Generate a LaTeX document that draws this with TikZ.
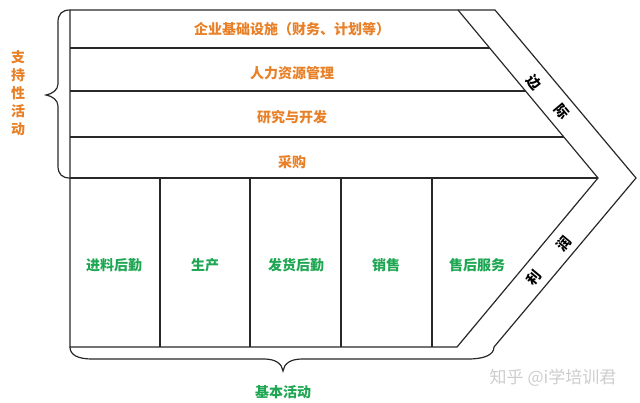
\documentclass[tikz,border=0pt]{standalone}
\usepackage{fontspec}
\setmainfont{Noto Sans CJK SC}
\usetikzlibrary{positioning}
\definecolor{suporange}{RGB}{232,128,40}
\definecolor{basegreen}{RGB}{30,166,82}
\definecolor{frameline}{RGB}{40,40,40}
\definecolor{markgray}{RGB}{205,205,205}

\begin{document}
\begin{tikzpicture}[x=1pt, y=-1pt, line width=1.2pt]

		\tikzstyle{sup}=[text=suporange, font=\fontsize{14}{16}\selectfont\bfseries, inner sep=0pt]
		\tikzstyle{base}=[text=basegreen, font=\fontsize{14}{16}\selectfont\bfseries, inner sep=0pt]
		\tikzstyle{margin}=[text=black, font=\fontsize{14}{16}\selectfont\bfseries, inner sep=0pt]
		\useasboundingbox (0,0) rectangle (640,402);

		% Chevron corners
		\coordinate (tl) at (70,10);
		\coordinate (ti) at (458,10);
		\coordinate (to) at (495,10);
		\coordinate (pi) at (598,178);
		\coordinate (po) at (636,178);
		\coordinate (bi) at (457,347);
		\coordinate (bo) at (494,347);
		\coordinate (bl) at (70,347);

		% Outline
		\draw[frameline] (tl) -- (to) -- (po) -- (bo);
		\draw[frameline] (ti) -- (pi) -- (bi) -- (bl) -- (tl);
		% Support rows
		\draw[frameline] (70,48) -- (489.7,48);
		\draw[frameline] (70,91) -- (525.5,91);
		\draw[frameline] (70,137) -- (563.8,137);
		\draw[frameline] (70,178) -- (pi);
		% Primary columns
		\foreach \x in {160,250,341,432}
			\draw[frameline] (\x,178) -- (\x,347);

		% Braces
		\draw[frameline] (tl) .. controls (62,10) and (58,14) .. (58,22) -- (58,84)
			.. controls (58,90) and (52,94) .. (46,95) .. controls (52,96) and (58,100) .. (58,106)
			-- (58,166) .. controls (58,174) and (62,178) .. (70,178);
		\draw[frameline] (bl) .. controls (70,355) and (78,359) .. (92,359) -- (264,359)
			.. controls (276,359) and (282,364) .. (283,371) .. controls (284,364) and (290,359) .. (302,359)
			-- (468,359) .. controls (484,359) and (494,355) .. (bo);

		% Support activities
		\node[sup] (infra) at (292,29) {企业基础设施（财务、计划等）};
		\node[sup] (hr) at (292,73) {人力资源管理};
		\node[sup] (rd) at (292,117) {研究与开发};
		\node[sup] (buy) at (292,162) {采购};
		\node[sup, align=center, font=\fontsize{14}{18}\selectfont\bfseries] (suplabel) at (18,93) {支\\持\\性\\活\\动};

		% Primary activities
		\node[base] (inlog) at (114,265) {进料后勤};
		\node[base] (prod) at (205,265) {生产};
		\node[base] (outlog) at (296,265) {发货后勤};
		\node[base] (sales) at (386,265) {销售};
		\node[base] (service) at (477,265) {售后服务};
		\node[base] (baselabel) at (283,392) {基本活动};

		% Margin
		\node[margin, rotate=-50] (m1) at (534,82) {边};
		\node[margin, rotate=-50] (m2) at (562,112) {际};
		\node[margin, rotate=50] (p1) at (534,278) {利};
		\node[margin, rotate=50] (p2) at (564,244) {润};

		\node[text=markgray, font=\fontsize{17}{19}\selectfont, inner sep=0pt] (mark) at (553,378) {知乎 @i学培训君};

\end{tikzpicture}
\end{document}
